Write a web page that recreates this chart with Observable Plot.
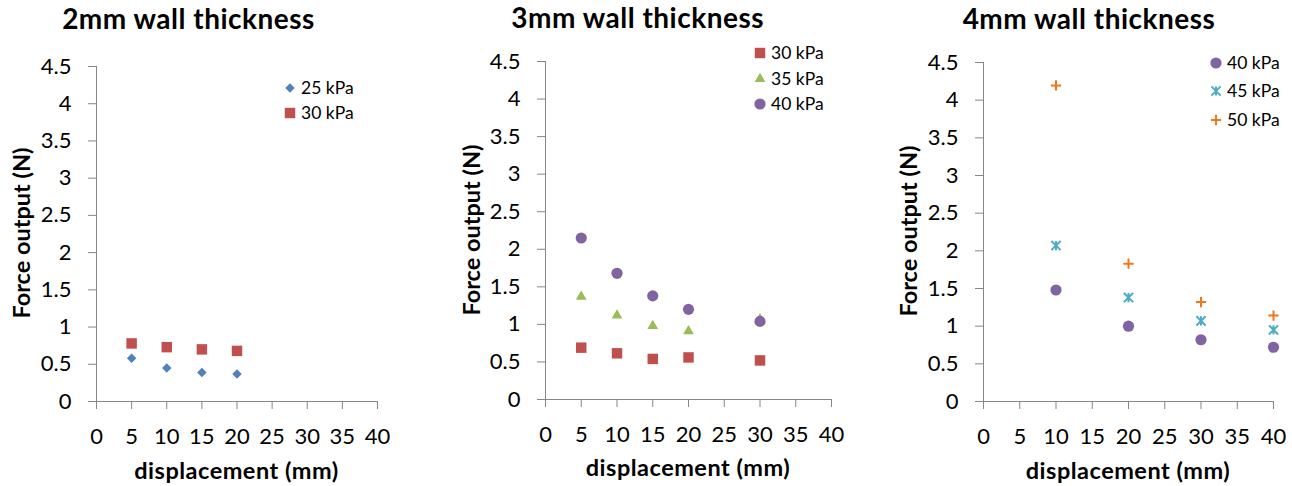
<!DOCTYPE html>
<html><head><meta charset="utf-8">
<script src="https://cdn.jsdelivr.net/npm/d3@7"></script>
<script src="https://cdn.jsdelivr.net/npm/@observablehq/plot@0.6"></script>
<style>
body{margin:0;background:#fff;}
#root{position:relative;width:1292px;height:486px;font-family:Lato,"Noto Sans",sans-serif;color:#000;overflow:hidden;background:#fff}
.abs{position:absolute;white-space:nowrap;line-height:1}
.title{font-weight:bold;font-size:28px;letter-spacing:0.5px;transform:translateX(-50%);}
.xlab{font-weight:bold;font-size:23.5px;letter-spacing:0.5px;transform:translateX(-50%);}
.ylab{font-weight:bold;font-size:23.5px;transform:translate(-50%,-50%) rotate(-90deg);}
.leg{font-size:17.5px;display:flex;align-items:center;height:20px}
.leg svg{display:block;margin-right:4px}
</style>
</head><body><div id="root"></div>
<script>
// ---- data ----
const titles = ["2mm wall thickness", "3mm wall thickness", "4mm wall thickness"];
const xLabel = "displacement (mm)";
const yLabel = "Force output (N)";
const xTicks = [0, 5, 10, 15, 20, 25, 30, 35, 40];
const yTicks = [0, 0.5, 1, 1.5, 2, 2.5, 3, 3.5, 4, 4.5];

// 2mm wall
const w2Disp = [5, 10, 15, 20];
const w2_25kPa = [0.58, 0.45, 0.39, 0.37];
const w2_30kPa = [0.78, 0.73, 0.70, 0.68];
// 3mm wall
const w3Disp = [5, 10, 15, 20, 30];
const w3_30kPa = [0.69, 0.615, 0.54, 0.56, 0.52];
const w3_35kPa = [1.37, 1.12, 0.98, 0.91, 1.07];
const w3_40kPa = [2.15, 1.68, 1.38, 1.20, 1.04];
// 4mm wall
const w4Disp = [10, 20, 30, 40];
const w4_40kPa = [1.48, 1.00, 0.82, 0.72];
const w4_45kPa = [2.07, 1.38, 1.07, 0.95];
const w4_50kPa = [4.195, 1.83, 1.32, 1.14];

// ---- styles ----
const axisColor = "#868686";
const C = {blue:"#4F81BD", red:"#C0504D", green:"#9BBB59", purple:"#8064A2", aqua:"#4BACC6", orange:"#F07818"};
const starSymbol = {draw(ctx, size){ const r = Math.sqrt(size/Math.PI);
  ctx.moveTo(-r,-r); ctx.lineTo(r,r); ctx.moveTo(-r,r); ctx.lineTo(r,-r); ctx.moveTo(0,-r); ctx.lineTo(0,r);} };
const S = {
  diamond:{symbol:"diamond2", r:4.3, filled:true},
  square:{symbol:"square", r:5.9, filled:true},
  triangle:{symbol:"triangle", r:4.0, filled:true},
  circle:{symbol:"circle", r:5.6, filled:true},
  star:{symbol:starSymbol, r:4.6, filled:false},
  plus:{symbol:"plus", r:3.4, filled:false}
};
const d3sym = {diamond2:d3.symbolDiamond2, square:d3.symbolSquare, triangle:d3.symbolTriangle, circle:d3.symbolCircle, plus:d3.symbolPlus};

const panels = [
  {left:0, width:430, mL:96, mR:53, mT:66, mB:85, title:[188.5,3.5], ylab:[22,233], xlab:[236.5,458.5],
   legend:{mx:290, ys:[88,113], tx:301},
   series:[{name:"25 kPa", x:w2Disp, y:w2_25kPa, color:C.blue, ...S.diamond},
           {name:"30 kPa", x:w2Disp, y:w2_30kPa, color:C.red, ...S.square}]},
  {left:440, width:430, mL:105, mR:39, mT:61, mB:87, title:[637.7,2.5], ylab:[471.7,230], xlab:[688,455.5],
   legend:{mx:760, ys:[53,79,104], tx:771},
   series:[{name:"30 kPa", x:w3Disp, y:w3_30kPa, color:C.red, ...S.square},
           {name:"35 kPa", x:w3Disp, y:w3_35kPa, color:C.green, ...S.triangle},
           {name:"40 kPa", x:w3Disp, y:w3_40kPa, color:C.purple, ...S.circle}]},
  {left:870, width:422, mL:113, mR:19, mT:62, mB:85, title:[1089,3.5], ylab:[909.3,231], xlab:[1128,458.5],
   legend:{mx:1216, ys:[63,91,120], tx:1226},
   series:[{name:"40 kPa", x:w4Disp, y:w4_40kPa, color:C.purple, ...S.circle},
           {name:"45 kPa", x:w4Disp, y:w4_45kPa, color:C.aqua, ...S.star},
           {name:"50 kPa", x:w4Disp, y:w4_50kPa, color:C.orange, ...S.plus}]}
];

const root = document.getElementById("root");
function addDiv(cls, text, left, top){
  const d = document.createElement("div");
  d.className = "abs " + cls; d.textContent = text;
  d.style.left = left + "px"; d.style.top = top + "px";
  root.appendChild(d); return d;
}

panels.forEach((p, i) => {
  const marks = [
    Plot.ruleY([0], {stroke: axisColor}),
    Plot.ruleX([0], {stroke: axisColor}),
    Plot.axisY({ticks: yTicks, tickSize: 8, tickPadding: 17, stroke: axisColor, fill: "#000", label: null, tickFormat: d => String(d)}),
    Plot.axisX({ticks: xTicks, tickSize: 8, tickPadding: 19, stroke: axisColor, fill: "#000", label: null, tickFormat: d => String(d)})
  ];
  p.series.forEach(s => {
    const data = s.x.map((x, j) => ({x, y: s.y[j]}));
    marks.push(Plot.dot(data, {x: "x", y: "y", symbol: s.symbol, r: s.r,
      fill: s.filled ? s.color : "none", stroke: s.filled ? "none" : s.color, strokeWidth: 2}));
  });
  const svg = Plot.plot({
    width: p.width, height: 486,
    marginLeft: p.mL, marginRight: p.mR, marginTop: p.mT, marginBottom: p.mB,
    x: {domain: [0, 40]}, y: {domain: [0, 4.5]},
    style: {fontFamily: "Lato, 'Noto Sans', sans-serif", fontSize: "22px", color: "#000", background: "transparent", overflow: "visible"},
    marks
  });
  svg.style.position = "absolute"; svg.style.left = p.left + "px"; svg.style.top = "0px";
  root.appendChild(svg);

  addDiv("title", titles[i], p.title[0], p.title[1]);
  addDiv("ylab", yLabel, p.ylab[0], p.ylab[1]);
  addDiv("xlab", xLabel, p.xlab[0], p.xlab[1]);

  p.series.forEach((s, k) => {
    const row = document.createElement("div");
    row.className = "abs leg";
    row.style.left = (p.legend.mx - 7) + "px";
    row.style.top = (p.legend.ys[k] - 10) + "px";
    const ns = "http://www.w3.org/2000/svg";
    const sv = document.createElementNS(ns, "svg");
    sv.setAttribute("width", 14); sv.setAttribute("height", 14);
    sv.setAttribute("viewBox", "-7 -7 14 14");
    const path = document.createElementNS(ns, "path");
    const type = typeof s.symbol === "string" ? d3sym[s.symbol] : s.symbol;
    path.setAttribute("d", d3.symbol(type, s.r * s.r * Math.PI)());
    path.setAttribute("fill", s.filled ? s.color : "none");
    path.setAttribute("stroke", s.filled ? "none" : s.color);
    path.setAttribute("stroke-width", 2);
    sv.appendChild(path);
    row.appendChild(sv);
    const t = document.createElement("span"); t.textContent = s.name;
    row.appendChild(t);
    root.appendChild(row);
  });
});
</script></body></html>
